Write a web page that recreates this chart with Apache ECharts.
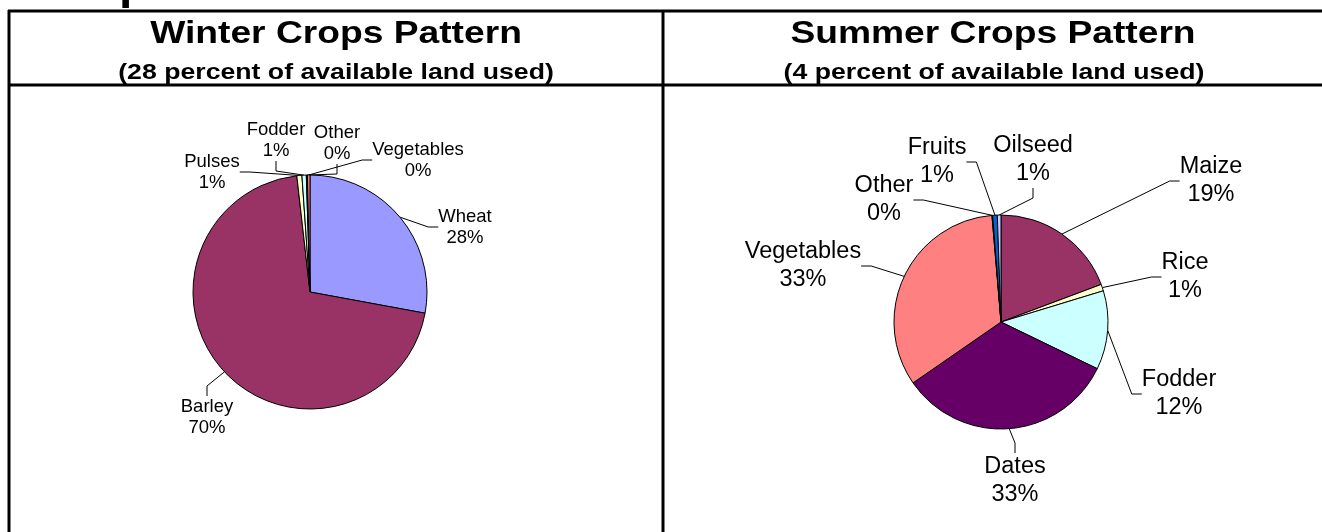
<!DOCTYPE html>
<html>
<head>
<meta charset="utf-8">
<script src="https://cdn.jsdelivr.net/npm/echarts@6/dist/echarts.min.js"></script>
<style>
html, body { margin: 0; padding: 0; background: #fff; }
#main { width: 1322px; height: 532px; }
</style>
</head>
<body>
<div id="main"></div>
<script>
// winter crops (share of cropped land, %)
var winterNames = ['Wheat', 'Barley', 'Pulses', 'Fodder', 'Other', 'Vegetables'];
var winterValues = [27.9, 70.3, 0.7, 0.6, 0.15, 0.35];
var winterColors = ['#9999FF', '#993366', '#FFFFCC', '#CCFFFF', '#660066', '#FF8080'];

// summer crops
var summerNames = ['Maize', 'Rice', 'Fodder', 'Dates', 'Vegetables', 'Other', 'Fruits', 'Oilseed'];
var summerValues = [19.3, 1.0, 11.9, 33.2, 33.3, 0.1, 0.7, 0.55];
var summerColors = ['#993366', '#FFFFCC', '#CCFFFF', '#660066', '#FF8080', '#000080', '#0066CC', '#CCCCFF'];

// where the labels sit, relative to the pie centre (placed by hand like in the sheet)
var winterLabelPos = {
    Wheat: [155, -65], Barley: [-103, 125], Pulses: [-98, -120],
    Fodder: [-34, -152], Other: [27, -149], Vegetables: [108, -132]
};
var summerLabelPos = {
    Maize: [210, -141], Rice: [184, -45], Fodder: [178, 72], Dates: [14, 159],
    Vegetables: [-198, -56], Other: [-117, -122], Fruits: [-64, -160], Oilseed: [32, -162]
};

var winterCentre = [310, 292];
var summerCentre = [1001, 322];

var font = '"Liberation Sans", Arial, sans-serif';

function toData(names, values, colors) {
    return names.map(function (n, i) {
        return { name: n, value: values[i], itemStyle: { color: colors[i] } };
    });
}

function placeLabels(names, centre, pos) {
    return function (p) {
        var o = pos[names[p.dataIndex]];
        return { x: centre[0] + o[0], y: centre[1] + o[1], align: 'center', verticalAlign: 'middle' };
    };
}

function pieSeries(names, values, colors, centre, radius, pos, fontSize, lineHeight) {
    return {
        type: 'pie',
        center: centre,
        radius: radius,
        startAngle: 90,
        clockwise: true,
        avoidLabelOverlap: false,
        silent: true,
        data: toData(names, values, colors),
        itemStyle: { borderColor: '#000', borderWidth: 1 },
        label: {
            show: true,
            position: 'outside',
            color: '#000',
            fontFamily: font,
            fontSize: fontSize,
            lineHeight: lineHeight,
            formatter: function (p) { return p.name + '\n' + Math.round(p.percent) + '%'; }
        },
        labelLine: { show: true, length: 8, length2: 10, smooth: false, lineStyle: { color: '#000', width: 1 } },
        labelLayout: placeLabels(names, centre, pos),
        emphasis: { disabled: true }
    };
}

function hline(y) {
    return { type: 'line', shape: { x1: 8, y1: y, x2: 1322, y2: y }, style: { stroke: '#000', lineWidth: 3 } };
}
function vline(x) {
    return { type: 'line', shape: { x1: x, y1: 10, x2: x, y2: 532 }, style: { stroke: '#000', lineWidth: 3 } };
}
function headText(x, y, text, size, sx) {
    return {
        type: 'text', x: x, y: y, scaleX: sx,
        style: { text: text, fill: '#000', font: 'bold ' + size + 'px ' + font, textAlign: 'center', textVerticalAlign: 'middle' }
    };
}

var myChart = echarts.init(document.getElementById('main'));
option = {
    backgroundColor: '#fff',
    animation: false,
    graphic: [
        hline(11), hline(85), vline(9), vline(663),
        { type: 'text', x: 119, y: 9, style: { text: 'p', fill: '#000', font: 'bold 48px ' + font, textVerticalAlign: 'bottom' } },
        headText(336, 34, 'Winter Crops Pattern', 31, 1.2),
        headText(336, 73, '(28 percent of available land used)', 21.5, 1.24),
        headText(993, 34, 'Summer Crops Pattern', 31, 1.2),
        headText(994, 73, '(4 percent of available land used)', 21.5, 1.24)
    ],
    series: [
        pieSeries(winterNames, winterValues, winterColors, winterCentre, 117, winterLabelPos, 18.5, 21),
        pieSeries(summerNames, summerValues, summerColors, summerCentre, 107, summerLabelPos, 23.5, 28)
    ]
};
myChart.setOption(option);
</script>
</body>
</html>
